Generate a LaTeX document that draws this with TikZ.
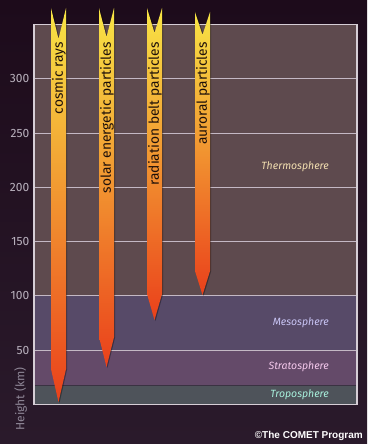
\documentclass[tikz,border=0pt]{standalone}
\usepackage{fontspec}
\setmainfont{Fira Sans}
\newfontfamily\cometfont{Liberation Sans}
\usetikzlibrary{positioning}

\definecolor{bgtop}{HTML}{1D0B1B}
\definecolor{bgbot}{HTML}{2A1A2B}
\definecolor{thermo}{HTML}{5E4A4E}
\definecolor{meso}{HTML}{574A68}
\definecolor{strato}{HTML}{644A69}
\definecolor{tropo}{HTML}{4E535A}
\definecolor{tropoline}{HTML}{3A3242}
\definecolor{gridc}{HTML}{C4B8C4}
\definecolor{framec}{HTML}{D6CED6}
\definecolor{ticktxt}{HTML}{BAB2BE}
\definecolor{hgttxt}{HTML}{8E8696}
\definecolor{raytxt}{HTML}{1E100A}
\definecolor{rayA}{HTML}{F8E545}
\definecolor{rayB}{HTML}{F29A30}
\definecolor{rayC}{HTML}{EA401B}
\definecolor{thermotxt}{HTML}{F2DEB0}
\definecolor{mesotxt}{HTML}{C8C4F4}
\definecolor{stratotxt}{HTML}{F4C8EC}
\definecolor{tropotxt}{HTML}{A8F0DC}

\begin{document}
\begin{tikzpicture}[x=1pt,y=-1pt,font=\fontsize{12}{14}\selectfont]

	\tikzset{layer lbl/.style={anchor=east, inner sep=0pt,
			font=\fontsize{10.5}{12}\selectfont\itshape}}
	\tikzset{tick lbl/.style={anchor=east, inner sep=0pt,
			text=ticktxt}}
	\tikzset{ray lbl/.style={rotate=90, anchor=east, inner sep=0pt,
			text=raytxt, font=\fontsize{13.8}{16}\selectfont}}
	\tikzset{gridline/.style={gridc, line width=0.9pt}}

	\useasboundingbox (0,0) rectangle (367,444);
	\shade[top color=bgtop, bottom color=bgbot] (0,0) rectangle (367,444);

	% layers of the atmosphere
	\fill[thermo] (34,24.5) rectangle (357,295.9);
	\fill[meso] (34,295.9) rectangle (357,350.2);
	\fill[strato] (34,350.2) rectangle (357,385);
	\fill[tropo] (34,385) rectangle (357,404.5);
	\draw[tropoline, line width=0.8pt] (34,385) -- (357,385);

	\foreach \h in {50,100,...,300} {
		\draw[gridline] (34,{404.5-\h*1.0857}) -- (357,{404.5-\h*1.0857});
		\node[tick lbl] (t\h) at (29.5,{404.5-\h*1.0857}) {\h};
	};
	\draw[framec, line width=1.3pt] (34,24.5) rectangle (357,404.5);

	\node[layer lbl, text=thermotxt] (thermo) at (329,166.7) {Thermosphere};
	\node[layer lbl, text=mesotxt] (meso) at (329,322.7) {Mesosphere};
	\node[layer lbl, text=stratotxt] (strato) at (329,367) {Stratosphere};
	\node[layer lbl, text=tropotxt] (tropo) at (329,395) {Troposphere};

	% particle arrows
	\foreach \xc/\yt/\yn/\ye/\yp/\nm/\txt in {58.5/8/39/369/402/cr/cosmic rays,
		106.5/8/37/337/367/sep/solar energetic particles,
		154.5/8/33/294/320/rbp/radiation belt particles,
		202.5/12/35/271/295/ap/auroral particles} {
		\fill[black, opacity=0.35] ({\xc-6.5},\yt) -- ({\xc+1},\yn) -- ({\xc+8.7},\yt)
			-- ({\xc+8.7},\ye) -- ({\xc+1},{\yp+1}) -- ({\xc-6.5},\ye) -- cycle;
		\shade[top color=rayA, middle color=rayB, bottom color=rayC]
			({\xc-7.5},\yt) -- (\xc,\yn) -- ({\xc+7.5},\yt)
			-- ({\xc+7.5},\ye) -- (\xc,\yp) -- ({\xc-7.5},\ye) -- cycle;
		\node[ray lbl] (\nm) at ({\xc+0.5},42) {\txt};
	};

	\node[rotate=90, text=hgttxt] (hgt) at (20.7,399) {Height (km)};
	\node[anchor=base east, inner sep=0pt, text=white,
		font=\cometfont\bfseries\fontsize{10}{12}\selectfont] (cpr) at (363,438) {©The COMET Program};

\end{tikzpicture}
\end{document}
